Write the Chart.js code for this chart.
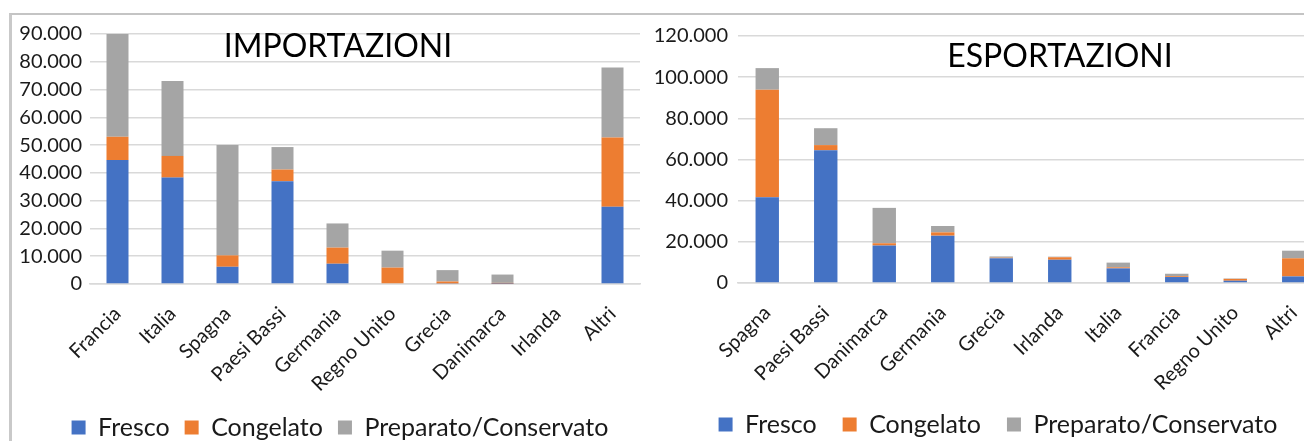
<!DOCTYPE html>
<html lang="it">
<head>
<meta charset="utf-8">
<title>Importazioni ed esportazioni</title>
<script src="https://cdn.jsdelivr.net/npm/chart.js@4.4.1/dist/chart.umd.min.js"></script>
<style>
  html, body { margin: 0; padding: 0; background: #fff; }
  body { width: 1304px; height: 441px; overflow: hidden; position: relative; }
  .cornice { position: absolute; left: 9px; top: 13px; width: 1400px; height: 500px;
             border-left: 3px solid #c9c9c9; border-top: 2px solid #c4c4c4; box-sizing: border-box; }
  canvas { position: absolute; display: block; }
  #graficoImport { left: 10px; top: 14px; }
  #graficoExport { left: 655px; top: 14px; }
</style>
</head>
<body>
<div class="cornice"></div>
<canvas id="graficoImport" width="640" height="436"></canvas>
<canvas id="graficoExport" width="678" height="433"></canvas>
<script>
// Importazioni per paese di provenienza
const categorieImport = ['Francia', 'Italia', 'Spagna', 'Paesi Bassi', 'Germania', 'Regno Unito', 'Grecia', 'Danimarca', 'Irlanda', 'Altri'];
const importFresco    = [44600, 38300, 6200, 37000, 7300, 0, 200, 100, 0, 27800];
const importCongelato = [8400, 7800, 4100, 4200, 5800, 5900, 700, 300, 0, 24900];
const importPreparato = [37000, 27000, 39700, 8100, 8700, 6100, 4100, 3000, 0, 25200];
const tickImport = [0, 10000, 20000, 30000, 40000, 50000, 60000, 70000, 80000, 90000];

// Esportazioni per paese di destinazione
const categorieExport = ['Spagna', 'Paesi Bassi', 'Danimarca', 'Germania', 'Grecia', 'Irlanda', 'Italia', 'Francia', 'Regno Unito', 'Altri'];
const exportFresco    = [41700, 64500, 18200, 23000, 12000, 11300, 7100, 2900, 1100, 3200];
const exportCongelato = [52200, 2500, 1100, 1600, 300, 1200, 500, 400, 900, 8800];
const exportPreparato = [10500, 8200, 17200, 3100, 600, 300, 2300, 1200, 200, 3700];
const tickExport = [0, 20000, 40000, 60000, 80000, 100000, 120000];

const serie = ['Fresco', 'Congelato', 'Preparato/Conservato'];
const colori = ['#4472C4', '#ED7D31', '#A5A5A5'];

const FONT = 'Lato, "Open Sans", sans-serif';
const TESTO = '#1a1a1a';
const GRIGLIA = '#d9d9d9';

// separatore delle migliaia all'italiana
function formatta(v) {
  return String(Math.round(v)).replace(/\B(?=(\d{3})+(?!\d))/g, '.');
}

// titolo scritto dentro l'area del grafico
const titoloInterno = {
  id: 'titoloInterno',
  afterDraw(chart, args, opts) {
    if (!opts || !opts.text) return;
    const a = chart.chartArea;
    const ctx = chart.ctx;
    ctx.save();
    ctx.font = opts.size + 'px ' + FONT;
    ctx.fillStyle = '#000';
    ctx.textAlign = 'center';
    ctx.textBaseline = 'alphabetic';
    ctx.fillText(opts.text, a.left + opts.dx, a.top + opts.dy);
    ctx.restore();
  }
};

// le etichette degli assi possono uscire dal riquadro della scala senza essere tagliate
const etichetteLibere = {
  id: 'etichetteLibere',
  afterLayout(chart) {
    chart.scales.x.bottom = chart.height;
    chart.scales.y.left = 0;
  }
};

function creaGrafico(id, categorie, valori, tick, cfg) {
  const datasets = serie.map((nome, i) => ({
    label: nome,
    data: valori[i],
    backgroundColor: colori[i],
    borderWidth: 0,
    categoryPercentage: 1,
    barPercentage: 0.4
  }));
  return new Chart(document.getElementById(id), {
    type: 'bar',
    data: { labels: categorie, datasets },
    plugins: [titoloInterno, etichetteLibere],
    options: {
      responsive: false,
      animation: false,
      events: [],
      layout: { padding: { top: cfg.padTop, left: cfg.padSinistra, right: 10, bottom: 0 } },
      plugins: {
        legend: {
          position: 'bottom',
          labels: {
            font: { family: FONT, size: 25 },
            color: TESTO,
            boxWidth: 14,
            boxHeight: 14,
            padding: cfg.padLegenda,
            useBorderRadius: false
          }
        },
        tooltip: { enabled: false },
        titoloInterno: cfg.titolo
      },
      scales: {
        x: {
          stacked: true,
          grid: { display: false },
          border: { display: true, color: GRIGLIA, width: 1.5 },
          ticks: {
            color: TESTO,
            font: { family: FONT, size: 20 },
            minRotation: 45,
            maxRotation: 45,
            autoSkip: false,
            padding: 10
          },
          afterFit(scale) {
            scale.height = cfg.altezzaX;
            scale.paddingLeft = 0;
            scale.paddingRight = 0;
          }
        },
        y: {
          stacked: true,
          min: 0,
          max: tick[tick.length - 1],
          afterBuildTicks(scale) {
            scale.ticks = tick.map(v => ({ value: v }));
          },
          grid: { color: GRIGLIA, lineWidth: 1.5, drawTicks: false },
          border: { display: false },
          ticks: {
            color: TESTO,
            font: { family: FONT, size: 20 },
            padding: cfg.padTick,
            callback: v => formatta(v)
          },
          afterFit(scale) {
            scale.width = cfg.larghezzaY;
            scale.paddingTop = 0;
            scale.paddingBottom = 0;
          }
        }
      }
    }
  });
}

creaGrafico('graficoImport', categorieImport,
  [importFresco, importCongelato, importPreparato], tickImport,
  { padTop: 20, padSinistra: 30, altezzaX: 116, larghezzaY: 50, padTick: 8, padLegenda: 15,
    titolo: { text: 'IMPORTAZIONI', size: 32, dx: 248, dy: 23 } });

creaGrafico('graficoExport', categorieExport,
  [exportFresco, exportCongelato, exportPreparato], tickExport,
  { padTop: 22, padSinistra: 18, altezzaX: 103, larghezzaY: 65, padTick: 10, padLegenda: 26,
    titolo: { text: 'ESPORTAZIONI', size: 32, dx: 322, dy: 31 } });
</script>
</body>
</html>
